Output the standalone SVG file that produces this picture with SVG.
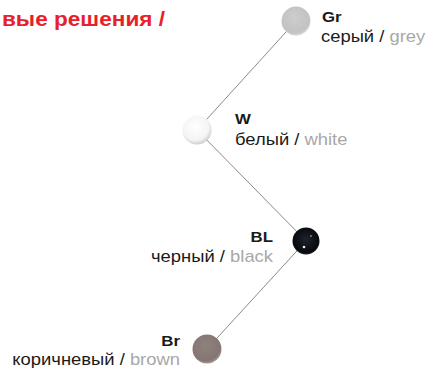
<svg xmlns="http://www.w3.org/2000/svg" width="427" height="373" viewBox="0 0 427 373">
<defs>
<style>
.code{font-family:"Liberation Sans",Arial,sans-serif;font-weight:bold;font-size:15px;fill:#1a1a1a}
.lbl{font-family:"Liberation Sans",Arial,sans-serif;font-size:16px;fill:#1a1a1a}
.en{fill:#a8a8a8}
.title{font-family:"Liberation Sans",Arial,sans-serif;font-weight:bold;font-size:20px;fill:#e8202a}
.conn line{stroke:#8a8a8a;stroke-width:1}
</style>
<radialGradient id="gGr" cx="0.45" cy="0.4" r="0.6">
<stop offset="0" stop-color="#cdcdcd"/><stop offset="0.85" stop-color="#c2c2c2"/><stop offset="1" stop-color="#d8d8d8"/>
</radialGradient>
<radialGradient id="gW" cx="0.45" cy="0.4" r="0.6">
<stop offset="0" stop-color="#ffffff"/><stop offset="0.75" stop-color="#f4f4f4"/><stop offset="1" stop-color="#cfcfcf"/>
</radialGradient>
<radialGradient id="gBL" cx="0.5" cy="0.45" r="0.6">
<stop offset="0" stop-color="#1d222c"/><stop offset="0.8" stop-color="#07090d"/><stop offset="1" stop-color="#3a3a3a"/>
</radialGradient>
<radialGradient id="gBr" cx="0.45" cy="0.4" r="0.6">
<stop offset="0" stop-color="#8f817e"/><stop offset="0.85" stop-color="#857673"/><stop offset="1" stop-color="#a39795"/>
</radialGradient>
</defs>
<rect width="427" height="373" fill="#ffffff"/>
<text class="title" transform="translate(165 26) scale(1.13 1)" text-anchor="end">вые решения /</text>
<g id="connectors" class="conn">
<line x1="296" y1="21" x2="197" y2="130"/>
<line x1="197" y1="130" x2="306" y2="241"/>
<line x1="306" y1="241" x2="207" y2="349"/>
</g>
<g id="node-Gr">
<circle cx="296" cy="21" r="14.5" fill="url(#gGr)"/>
<text class="code" transform="translate(322 22) scale(1.12 1)">Gr</text>
<text class="lbl" transform="translate(321 42) scale(1.15 1)">серый / <tspan class="en">grey</tspan></text>
</g>
<g id="node-W">
<circle cx="197" cy="130" r="14.5" fill="url(#gW)"/>
<text class="code" transform="translate(235 124) scale(1.12 1)">W</text>
<text class="lbl" transform="translate(235 145) scale(1.15 1)">белый / <tspan class="en">white</tspan></text>
</g>
<g id="node-BL">
<circle cx="306" cy="241" r="13.5" fill="url(#gBL)"/>
<circle cx="304" cy="247" r="1.3" fill="#e8eef5"/>
<circle cx="311" cy="236" r="1" fill="#7a8090"/>
<text class="code" transform="translate(273 242) scale(1.12 1)" text-anchor="end">BL</text>
<text class="lbl" transform="translate(273 262) scale(1.15 1)" text-anchor="end">черный / <tspan class="en">black</tspan></text>
</g>
<g id="node-Br">
<circle cx="207" cy="349" r="14.5" fill="url(#gBr)"/>
<text class="code" transform="translate(180 346) scale(1.12 1)" text-anchor="end">Br</text>
<text class="lbl" transform="translate(180 365) scale(1.15 1)" text-anchor="end">коричневый / <tspan class="en">brown</tspan></text>
</g>
</svg>
